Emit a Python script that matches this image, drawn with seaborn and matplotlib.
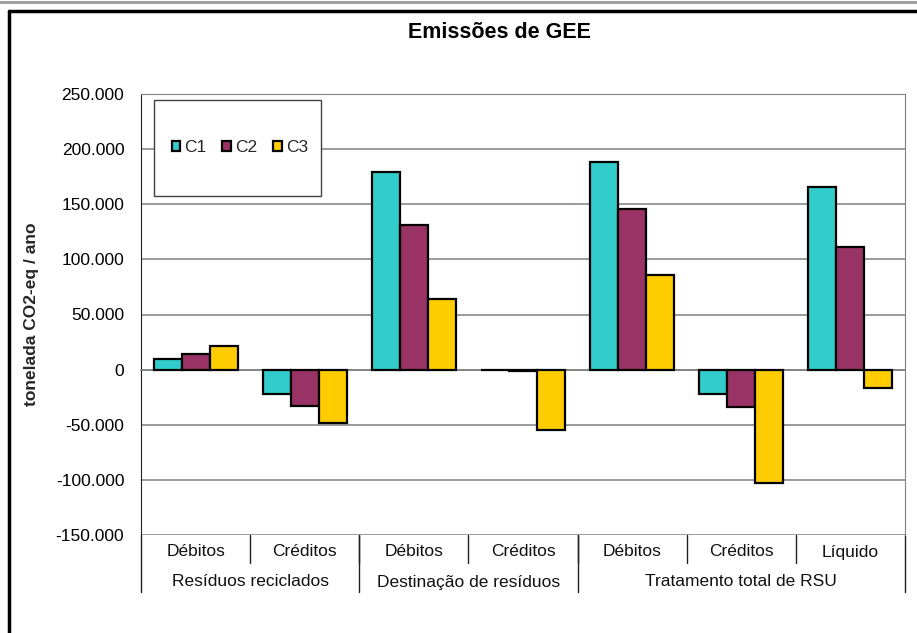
import pandas as pd
import matplotlib.pyplot as plt
import matplotlib.transforms as mtransforms
from matplotlib.lines import Line2D
from matplotlib.patches import Rectangle
import seaborn as sns

# ----------------------------------------------------------------------
# Data (tonelada CO2-eq / ano)
# ----------------------------------------------------------------------
SUBCATS = ["Débitos", "Créditos", "Débitos", "Créditos", "Débitos", "Créditos", "Líquido"]
GROUPS = ["Resíduos reciclados", "Destinação de resíduos", "Tratamento total de RSU"]
GROUP_SIZES = [2, 2, 3]
SCENARIOS = ["C1", "C2", "C3"]

C1 = [9500, -21800, 179000, -700, 188500, -22500, 166000]
C2 = [14300, -32700, 131000, -1500, 145300, -34200, 111100]
C3 = [21500, -48000, 64500, -55000, 86000, -103000, -17000]

COLORS = {"C1": "#33CCCC", "C2": "#993366", "C3": "#FFCC00"}
GRID = "#808080"

# long form for seaborn, one row per bar
keys = [f"{i}" for i in range(len(SUBCATS))]
rows = []
for name, vals in zip(SCENARIOS, [C1, C2, C3]):
    for k, v in zip(keys, vals):
        rows.append({"cat": k, "cenario": name, "valor": v})
df = pd.DataFrame(rows)

# ----------------------------------------------------------------------
# Styling
# ----------------------------------------------------------------------
sns.set_style("white")
plt.rcParams["font.family"] = ["Liberation Sans", "DejaVu Sans"]

fig = plt.figure(figsize=(9.17, 6.33), dpi=100)
ax = fig.add_axes([141 / 917, 98 / 633, 764 / 917, 441 / 633])

sns.barplot(data=df, x="cat", y="valor", hue="cenario", order=keys,
            hue_order=SCENARIOS, palette=COLORS, width=0.77,
            edgecolor="black", linewidth=1.6, saturation=1, ax=ax,
            errorbar=None, zorder=3)

ax.set_xlim(-0.5, len(SUBCATS) - 0.5)
ax.set_ylim(-150000, 250000)
ax.set_yticks(range(-150000, 250001, 50000))
ax.set_yticklabels([f"{v:,}".replace(",", ".") for v in range(-150000, 250001, 50000)],
                   fontsize=12.5, color="black")
ax.yaxis.grid(True, color=GRID, linewidth=1.1, zorder=0)
ax.set_axisbelow(True)

# category axis crosses at zero, small ticks at boundaries
ax.spines["bottom"].set_position(("data", 0))
ax.spines["bottom"].set_color(GRID)
ax.spines["bottom"].set_linewidth(1.1)
ax.set_xticks([i + 0.5 for i in range(len(SUBCATS) - 1)])
ax.set_xticklabels([])
ax.tick_params(axis="x", direction="out", length=4, color=GRID, width=1)
ax.tick_params(axis="y", direction="out", length=8, color="#404040", width=1, pad=4)
ax.spines["left"].set_color("#202020")
ax.spines["right"].set_color(GRID)
ax.spines["top"].set_color(GRID)
ax.set_xlabel("")
ax.set_ylabel("tonelada CO2-eq / ano", fontsize=12.5, fontweight="bold", labelpad=12)

# ----------------------------------------------------------------------
# Two-level category labels below the plot area
# ----------------------------------------------------------------------
trans = mtransforms.blended_transform_factory(ax.transData, ax.transAxes)
px = 1 / 441  # one pixel in axes-fraction units (vertical)
for i, lab in enumerate(SUBCATS):
    ax.text(i, -17 * px, lab, transform=trans, ha="center", va="center",
            fontsize=12.5, color="#111111")
for i in range(len(SUBCATS) - 1):
    ax.add_line(Line2D([i + 0.5, i + 0.5], [0, -28 * px], transform=trans,
                       color="#202020", linewidth=1, clip_on=False))
start = 0
bounds = [-0.5]
for g, n in zip(GROUPS, GROUP_SIZES):
    mid = start + (n - 1) / 2
    ax.text(mid, -47 * px, g, transform=trans, ha="center", va="center",
            fontsize=12.5, color="#111111")
    start += n
    bounds.append(start - 0.5)
for b in bounds:
    ax.add_line(Line2D([b, b], [0, -57 * px], transform=trans,
                       color="#202020", linewidth=1, clip_on=False))

# ----------------------------------------------------------------------
# Legend in an oversized box, as in the original
# ----------------------------------------------------------------------
handles, labels = ax.get_legend_handles_labels()
ax.get_legend().remove()
box = Rectangle((154 / 917, 1 - 196 / 633), 167 / 917, 96 / 633,
                transform=fig.transFigure, facecolor="white",
                edgecolor="#404040", linewidth=1, zorder=5)
fig.add_artist(box)
leg = fig.legend(handles, labels, loc="center",
                 bbox_to_anchor=(240 / 917, 1 - 148 / 633), ncol=3,
                 frameon=False, fontsize=12.5, handlelength=0.5,
                 handleheight=0.5, handletextpad=0.25, columnspacing=0.9)
leg.set_zorder(6)

# ----------------------------------------------------------------------
# Title and outer chart frame
# ----------------------------------------------------------------------
fig.text(499 / 917, 1 - 33 / 633, "Emissões de GEE", ha="center", va="center",
         fontsize=15.5, fontweight="bold", color="black")
fig.add_artist(Line2D([0, 1], [1 - 1.5 / 633, 1 - 1.5 / 633],
                      transform=fig.transFigure, color="#9a9a9a", linewidth=2))
fig.add_artist(Line2D([8.5 / 917, 1], [1 - 11 / 633, 1 - 11 / 633],
                      transform=fig.transFigure, color="black", linewidth=2.5))
fig.add_artist(Line2D([8.5 / 917, 8.5 / 917], [0, 1 - 11 / 633],
                      transform=fig.transFigure, color="black", linewidth=2.5))

fig.savefig("out.png", dpi=100, facecolor="white")
